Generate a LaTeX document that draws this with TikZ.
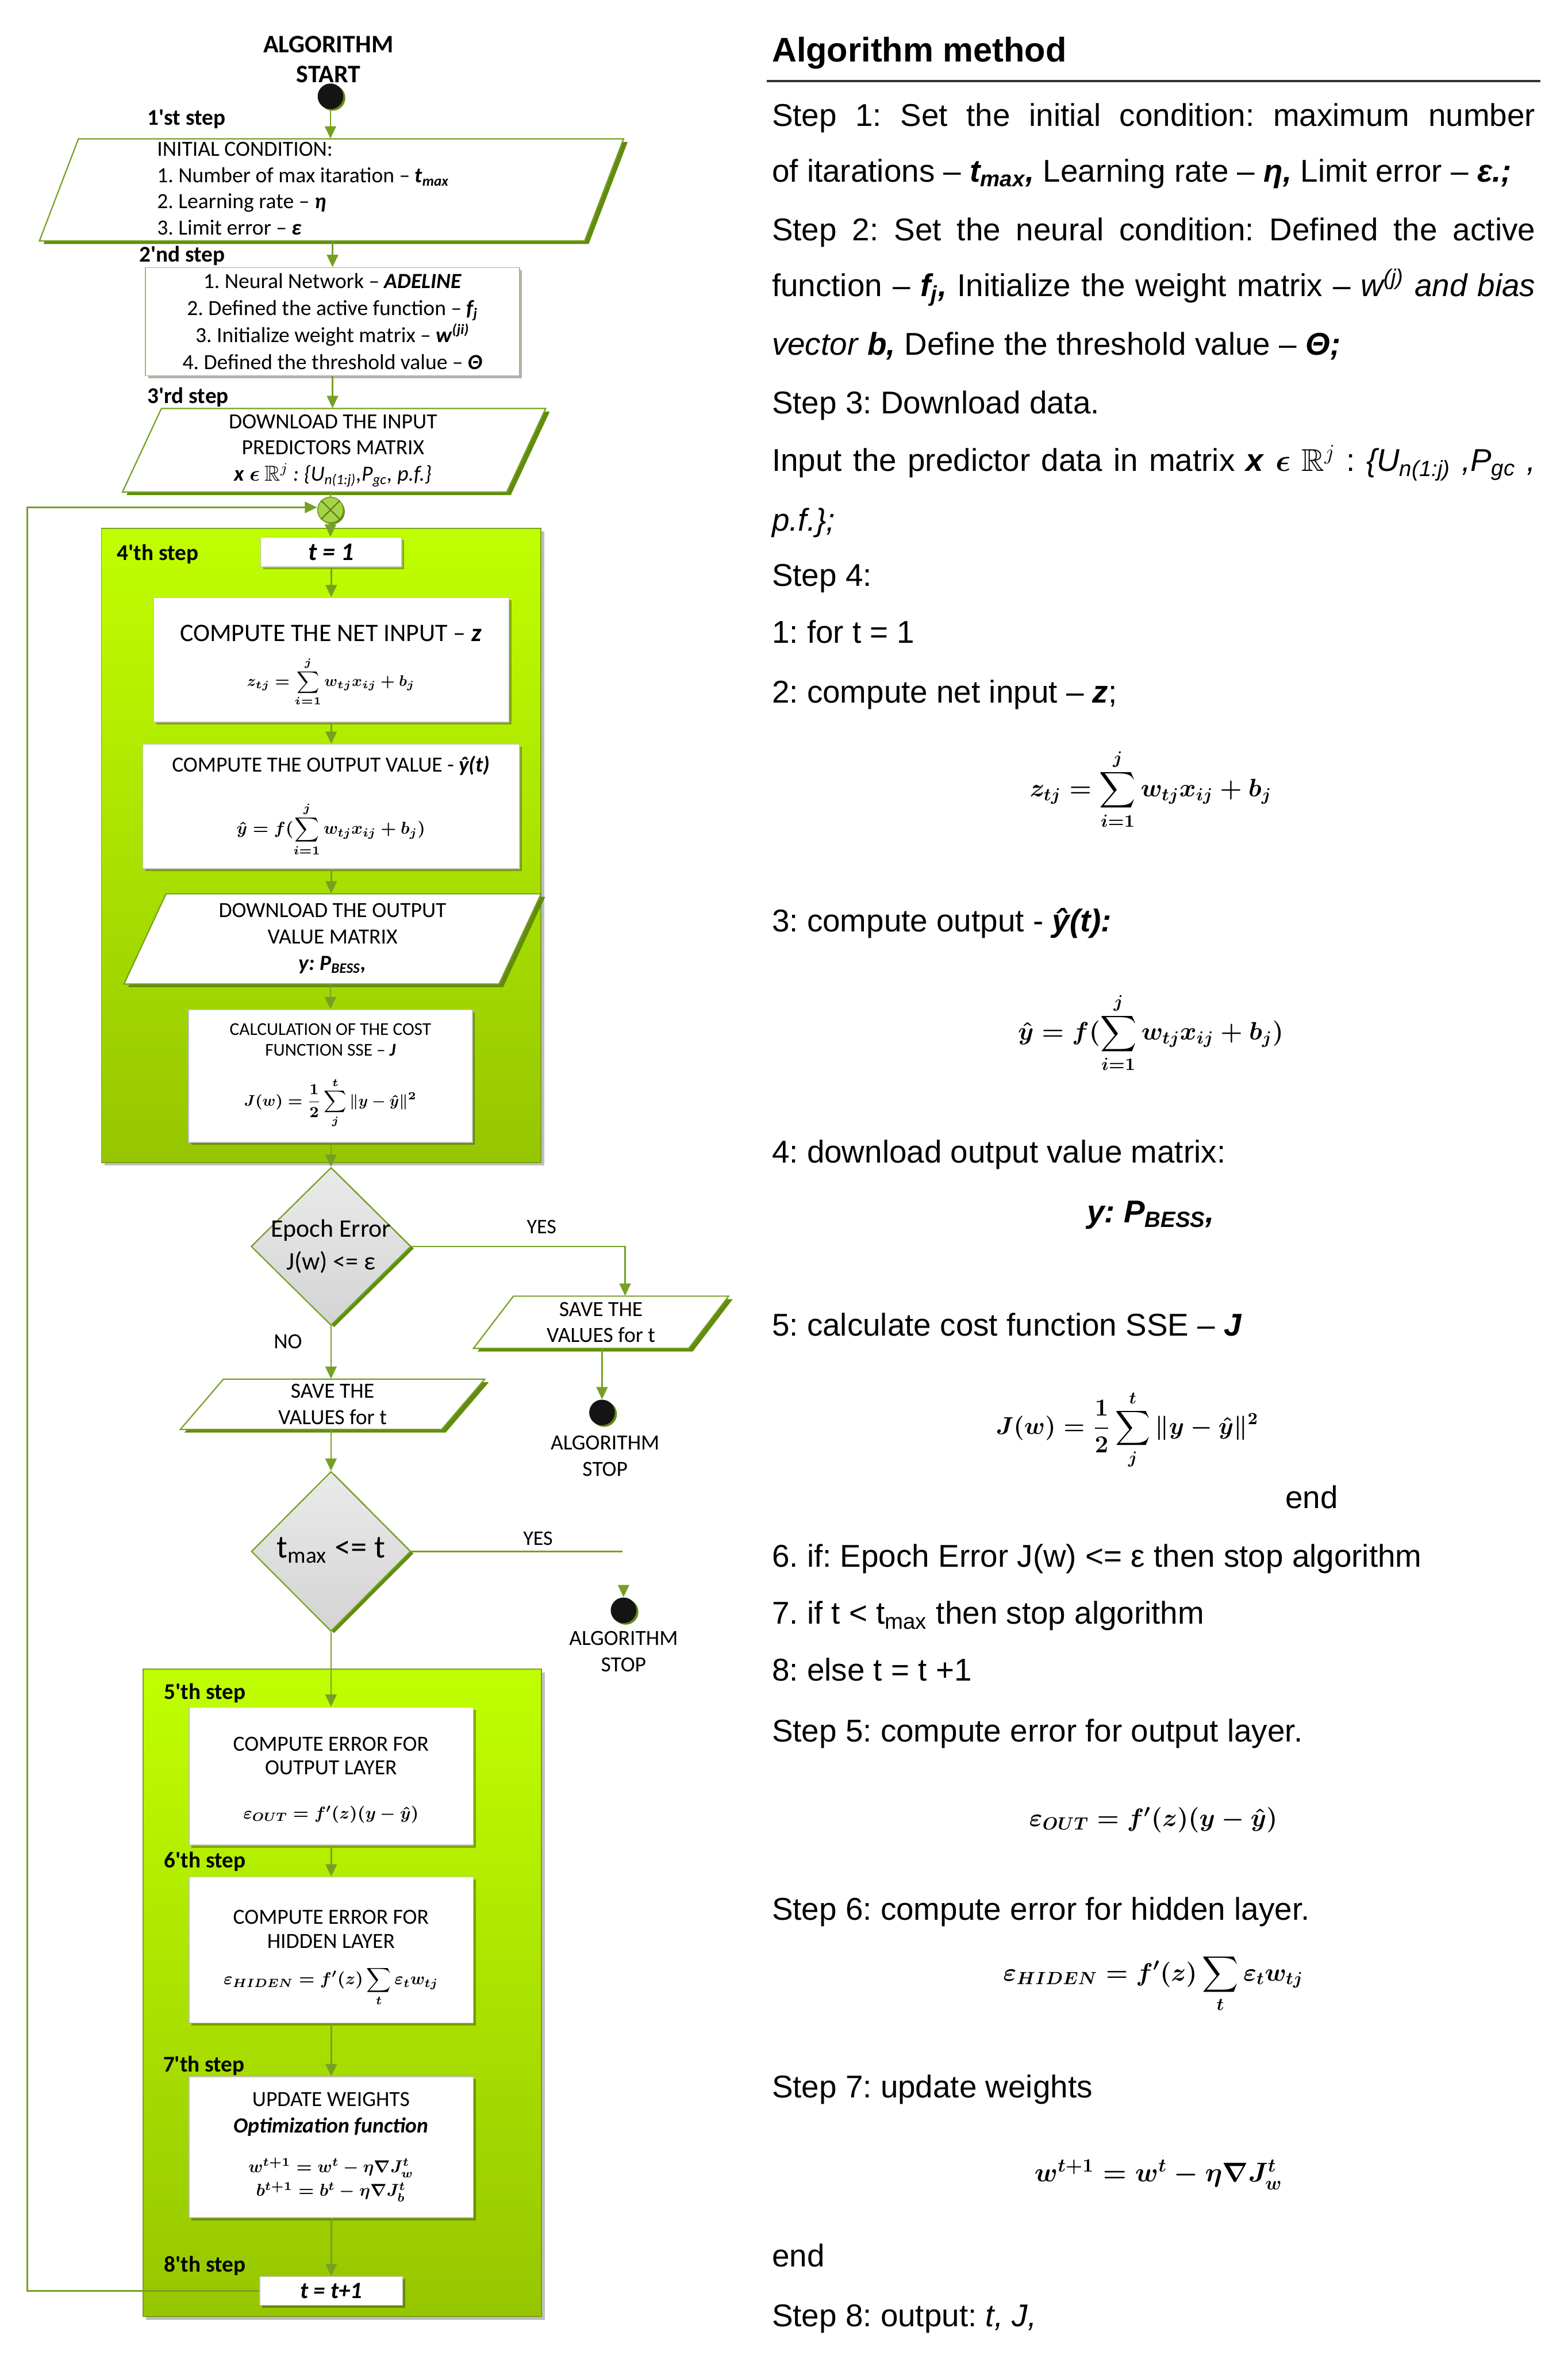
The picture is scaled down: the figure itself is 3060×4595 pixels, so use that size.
\RequirePackage{fix-cm}
\documentclass[tikz,border=0pt]{standalone}
\usepackage{amsmath,amssymb}
\usepackage{bm}
\usepackage{fontspec}
\newfontfamily\arialf{Liberation Sans}
\newfontfamily\calf{Carlito}
\usetikzlibrary{shapes.geometric,arrows.meta,shadows}
\frenchspacing
\definecolor{lineg}{RGB}{118,160,36}
\definecolor{shadg}{RGB}{98,140,14}
\definecolor{limetop}{RGB}{192,255,0}
\definecolor{limebot}{RGB}{150,198,0}
\definecolor{jfill}{RGB}{165,212,70}
\newcommand\mypgram[6]{%
  \fill[shadg] (#2-#4+#6+8,#3-#5+6) -- (#2+#4+#6+8,#3-#5+6) -- (#2+#4-#6+8,#3+#5+6) -- (#2-#4-#6+8,#3+#5+6) -- cycle;
  \draw[lineg, line width=0.25mm, fill=white] (#2-#4+#6,#3-#5) -- (#2+#4+#6,#3-#5) -- (#2+#4-#6,#3+#5) -- (#2-#4-#6,#3+#5) -- cycle;
  \node[anch, minimum width={2*#4*0.1mm}, minimum height={2*#5*0.1mm}] (#1) at (#2,#3) {};
}
\tikzset{
  conn/.style={draw=lineg, line width=0.3mm},
  arr/.style={conn, -{Triangle[length=2.4mm,width=2.2mm]}},
  steplbl/.style={anchor=west, inner sep=0, font=\calf\bfseries\fontsize{12.5}{15}\selectfont},
  ltxt/.style={inner sep=0, align=center, font=\calf\fontsize{12}{14.6}\selectfont},
  lfm/.style={inner sep=0, font=\boldmath\fontsize{9.5}{12}\selectfont},
  wbox/.style={rectangle, draw=black!25, line width=0.15mm, fill=white, inner sep=0, drop shadow={shadow xshift=0.5mm, shadow yshift=-0.5mm, fill=black, opacity=0.3}},
  grp/.style={rectangle, inner sep=0, top color=limetop, bottom color=limebot, draw=lineg, line width=0.2mm, drop shadow={shadow xshift=0.6mm, shadow yshift=-0.6mm, fill=black, opacity=0.25}},
  dia/.style={diamond, draw=lineg, line width=0.25mm, top color=black!8, bottom color=black!17, inner sep=0, drop shadow={shadow xshift=0.6mm, shadow yshift=-0.4mm, fill=shadg, opacity=1}},
  dot/.style={circle, fill=black!92, minimum size=5mm, inner sep=0, drop shadow={shadow xshift=0.4mm, shadow yshift=-0.3mm, fill=shadg, opacity=1}},
  anch/.style={rectangle, inner sep=0, draw=none},
  rt/.style={anchor=base west, inner sep=0, font=\arialf\fontsize{17.5}{21}\selectfont},
  rfm/.style={inner sep=0, font=\boldmath\fontsize{14}{17}\selectfont},
}
\begin{document}
\begin{tikzpicture}[x=0.1mm,y=-0.1mm]
\useasboundingbox (0,0) rectangle (3060,4595);
\fill[white] (0,0) rectangle (3060,4595);

% ---------- left flowchart ----------
\node[inner sep=0, align=center, font=\calf\bfseries\fontsize{14}{16.8}\selectfont] (alg) at (641,116) {ALGORITHM\\START};
\node[dot] (start) at (645,188) {};
\node[steplbl] (s1) at (287,233) {1'st step};

\mypgram{p1}{647}{370.5}{532}{99.5}{38}
\node[inner sep=0, anchor=west, align=left, font=\calf\fontsize{12}{14.5}\selectfont] (p1t) at (306,368) {INITIAL CONDITION:\\
1. Number of max itaration – \textbf{\textit{t\textsubscript{max}}}\\
2. Learning rate – \textbf{\textit{η}}\\
3. Limit error – \textbf{\textit{ε}}};

\node[steplbl] (s2) at (271,499) {2'nd step};
\node[wbox, draw=lineg!70, minimum width=73mm, minimum height=21.1mm] (b2) at (649,627.5) {};
\node[ltxt, font=\calf\fontsize{12}{15}\selectfont] (b2t) at (649,627) {1. Neural Network – \textbf{\textit{ADELINE}}\\
2. Defined the active function – \textbf{\textit{f\textsubscript{j}}}\\
3. Initialize weight matrix – \textbf{\textit{w\textsuperscript{(ji)}}}\\
4. Defined the threshold value – \textbf{\textit{Θ}}};

\node[steplbl] (s3) at (287,775) {3'rd step};
\mypgram{p3}{652}{878.5}{375}{81.5}{38}
\node[ltxt] (p3t) at (650,879) {DOWNLOAD THE INPUT\\PREDICTORS MATRIX\\
\textbf{\textit{x}} $\bm{\epsilon}$ $\mathbb{R}^{j}$ \textit{: \{U\textsubscript{n(1:j)},P\textsubscript{gc}, p.f.\}}};

\node[circle, minimum size=5mm, fill=jfill, draw=lineg, line width=0.2mm, inner sep=0,
  drop shadow={shadow xshift=0.3mm, shadow yshift=-0.3mm, fill=shadg, opacity=1}] (jn) at (645,995) {};
\draw[lineg!70!black, line width=0.2mm] (jn.north east) -- (jn.south west) (jn.north west) -- (jn.south east);

% group 4
\node[grp, minimum width=85.8mm, minimum height=123.7mm] (g4) at (627,1649.5) {};
\node[steplbl] (s4) at (228,1081) {4'th step};
\node[wbox, minimum width=27.5mm, minimum height=5.8mm, font=\calf\bfseries\itshape\fontsize{14}{16}\selectfont] (t1) at (646.5,1077) {t = 1};

\node[wbox, minimum width=69.3mm, minimum height=24.3mm] (bA) at (646.5,1287.5) {};
\node[ltxt, font=\calf\fontsize{14}{16}\selectfont] (bAt) at (646,1236) {COMPUTE THE NET INPUT – \textbf{\textit{z}}};
\node[lfm, font=\boldmath\fontsize{8.5}{10}\selectfont] (bAf) at (646,1330) {$\displaystyle z_{tj} = \sum_{i=1}^{j} w_{tj}x_{ij} + b_j$};

\node[wbox, minimum width=73.5mm, minimum height=24.3mm] (bB) at (646.5,1573.5) {};
\node[ltxt] (bBt) at (646,1494) {COMPUTE THE OUTPUT VALUE - \textbf{\textit{ŷ(t)}}};
\node[lfm] (bBf) at (646,1618) {$\displaystyle \hat{y} = f(\sum_{i=1}^{j} w_{tj}x_{ij} + b_j)$};

\mypgram{pc}{649}{1832}{366}{88}{41}
\node[ltxt] (pct) at (649,1831) {DOWNLOAD THE OUTPUT\\VALUE MATRIX\\\textbf{\textit{y: P\textsubscript{BESS},}}};

\node[wbox, minimum width=55.4mm, minimum height=25.9mm] (bD) at (645,2099.5) {};
\node[ltxt, font=\calf\fontsize{10}{11.4}\selectfont] (bDt) at (645,2029) {CALCULATION OF THE COST\\FUNCTION SSE – \textbf{\textit{J}}};
\node[lfm, font=\boldmath\fontsize{8.5}{10}\selectfont] (bDf) at (645,2152) {$\displaystyle J(w) = \frac{1}{2}\sum_{j}^{t}\|y - \hat{y}\|^2$};

% decisions
\node[dia, minimum width=31.2mm, minimum height=30.8mm] (d1) at (646,2432) {};
\node[ltxt, font=\calf\fontsize{14}{18}\selectfont] (d1t) at (646,2432) {Epoch Error\\J(w) <= ε};
\node[inner sep=0, font=\calf\fontsize{11.5}{13}\selectfont] (yes1) at (1057,2394) {YES};
\mypgram{pe}{1173}{2580}{210}{51}{39}
\node[ltxt] (pet) at (1173,2580) {SAVE THE\\VALUES for t};
\node[dot] (stop1) at (1175,2756) {};
\node[ltxt] (stop1t) at (1181,2841) {ALGORITHM\\STOP};
\node[inner sep=0, font=\calf\fontsize{12}{14}\selectfont] (no1) at (562,2618) {NO};
\mypgram{pf}{649}{2740}{255}{49}{42}
\node[ltxt] (pft) at (649,2740) {SAVE THE\\VALUES for t};

\node[dia, minimum width=31.1mm, minimum height=31.2mm] (d2) at (646,3027) {};
\node[ltxt, font=\calf\fontsize{18}{20}\selectfont] (d2t) at (646,3025) {t\textsubscript{max} <= t};
\node[inner sep=0, font=\calf\fontsize{11.5}{13}\selectfont] (yes2) at (1050,3002) {YES};
\coordinate (d2e) at (1215,3027);
\node[dot] (stop2) at (1217,3142) {};
\coordinate (s2in) at (1217,3098);
\node[ltxt] (stop2t) at (1217,3222) {ALGORITHM\\STOP};

% group 5
\node[grp, minimum width=77.8mm, minimum height=126.3mm] (g5) at (668,3888.5) {};
\node[steplbl] (s5) at (320,3303) {5'th step};
\node[wbox, minimum width=55.5mm, minimum height=26.9mm] (bG) at (646.5,3465.5) {};
\node[ltxt, font=\calf\fontsize{12}{13.1}\selectfont] (bGt) at (646,3426) {COMPUTE ERROR FOR\\OUTPUT LAYER};
\node[lfm] (bGf) at (646,3540) {$\varepsilon_{OUT} = f'(z)(y - \hat{y})$};

\node[steplbl] (s6) at (320,3632) {6'th step};
\node[wbox, minimum width=55.5mm, minimum height=28.5mm] (bH) at (646.5,3804.5) {};
\node[ltxt, font=\calf\fontsize{12}{13.1}\selectfont] (bHt) at (646,3764) {COMPUTE ERROR FOR\\HIDDEN LAYER};
\node[lfm] (bHf) at (646,3876) {$\displaystyle \varepsilon_{HIDEN} = f'(z)\sum_{t}\varepsilon_t w_{tj}$};

\node[steplbl] (s7) at (318,4031) {7'th step};
\node[wbox, minimum width=55.5mm, minimum height=27.5mm] (bI) at (646.5,4189.5) {};
\node[ltxt, font=\calf\fontsize{12}{14.8}\selectfont] (bIt) at (646,4125) {UPDATE WEIGHTS\\\textbf{\textit{Optimization function}}};
\node[lfm, align=center, font=\boldmath\fontsize{9.5}{13.2}\selectfont] (bIf) at (646,4253) {$w^{t+1} = w^t - \eta\nabla J_w^t$\\$b^{t+1} = b^t - \eta\nabla J_b^t$};

\node[steplbl] (s8) at (320,4421) {8'th step};
\node[wbox, minimum width=27.9mm, minimum height=5.6mm, font=\calf\bfseries\itshape\fontsize{13}{15}\selectfont] (tt) at (646.5,4470) {t = t+1};

\coordinate (lpA) at (53,4470);
\coordinate (lpB) at (53,990);

% connectors
\draw[arr] (start) -- (start |- p1.north);
\draw[arr] (b2.north |- p1.south) -- (b2.north);
\draw[arr] (b2.south) -- (b2.south |- p3.north);
\draw[conn] (jn.north |- p3.south) -- (jn.north);
\draw[arr] (tt.west) -- (lpA) -- (lpB) -- (lpB -| jn.west);
\draw[arr] (jn) -- (jn |- t1.north);
\draw[arr] (t1.south) -- (t1.south |- bA.north);
\draw[arr] (bA.south) -- (bA.south |- bB.north);
\draw[arr] (bB.south) -- (bB.south |- pc.north);
\draw[arr] (bD.north |- pc.south) -- (bD.north);
\draw[arr] (d1.north |- bD.south) -- (d1.north);
\draw[arr] (d1.east) -| ([xshift=4.7mm]pe.north);
\draw[arr] (stop1 |- pe.south) -- (stop1);
\draw[arr] (d1.south) -- (d1.south |- pf.north);
\draw[arr] (d2.north |- pf.south) -- (d2.north);
\draw[conn] (d2.east) -- (d2e);
\draw[arr] (s2in) -- (stop2);
\draw[arr] (d2.south) -- (d2.south |- bG.north);
\draw[arr] (bG.south) -- (bG.south |- bH.north);
\draw[arr] (bH.south) -- (bH.south |- bI.north);
\draw[arr] (bI.south) -- (bI.south |- tt.north);

% ---------- right column ----------
\node[rt, font=\arialf\bfseries\fontsize{19}{22}\selectfont] (rtitle) at (1506,121) {Algorithm method};
\draw[black!80, line width=0.4mm] (1496,158) -- (3006,158);
\node[rt] (r1) at (1506,246) {\makebox[149mm][s]{Step 1: Set the initial condition: maximum number}};
\node[rt] (r2) at (1506,355) {of itarations – \textbf{\textit{t\textsubscript{max},}} Learning rate – \textbf{\textit{η,}} Limit error – \textbf{\textit{ε.;}}};
\node[rt] (r3) at (1506,469) {\makebox[149mm][s]{Step 2: Set the neural condition: Defined the active}};
\node[rt] (r4) at (1506,578) {\makebox[149mm][s]{function – \textbf{\textit{f\textsubscript{j},}} Initialize the weight matrix – \textit{w\textsuperscript{(j)} and bias}}};
\node[rt] (r5) at (1506,693) {\textit{vector} \textbf{\textit{b,}} Define the threshold value – \textbf{\textit{Θ;}}};
\node[rt] (r6) at (1506,807) {Step 3: Download data.};
\node[rt] (r7) at (1506,919) {\makebox[149mm][s]{Input the predictor data in matrix \textbf{\textit{x}} $\bm{\epsilon}$ $\mathbb{R}^{j}$ : \textit{\{U\textsubscript{n(1:j)} ,P\textsubscript{gc} ,}}};
\node[rt] (r8) at (1506,1036) {\textit{p.f.\};}};
\node[rt] (r9) at (1506,1144) {Step 4:};
\node[rt] (r10) at (1506,1255) {1: for t = 1};
\node[rt] (r11) at (1506,1371) {2: compute net input – \textbf{\textit{z}};};
\node[rfm] (f1) at (2246,1540) {$\displaystyle z_{tj} = \sum_{i=1}^{j} w_{tj}x_{ij} + b_j$};
\node[rt] (r12) at (1506,1818) {3: compute output - \textbf{\textit{ŷ(t):}}};
\node[rfm] (f2) at (2246,2015) {$\displaystyle \hat{y} = f(\sum_{i=1}^{j} w_{tj}x_{ij} + b_j)$};
\node[rt] (r13) at (1506,2269) {4: download output value matrix:};
\node[rt, anchor=base] (r14) at (2246,2385) {\textbf{\textit{y: P\textsubscript{BESS},}}};
\node[rt] (r15) at (1506,2607) {5: calculate cost function SSE – \textbf{\textit{J}}};
\node[rfm, font=\boldmath\fontsize{13.5}{16}\selectfont] (f3) at (2200,2790) {$\displaystyle J(w) = \frac{1}{2}\sum_{j}^{t}\|y - \hat{y}\|^2$};
\node[rt] (r16) at (2508,2943) {end};
\node[rt] (r17) at (1506,3058) {6. if: Epoch Error J(w) <= ε then stop algorithm};
\node[rt] (r18) at (1506,3169) {7. if t < t\textsubscript{max} then stop algorithm};
\node[rt] (r19) at (1506,3280) {8: else t = t +1};
\node[rt] (r20) at (1506,3398) {Step 5: compute error for output layer.};
\node[rfm] (f4) at (2251,3551) {$\varepsilon_{OUT} = f'(z)(y - \hat{y})$};
\node[rt] (r21) at (1506,3746) {Step 6: compute error for hidden layer.};
\node[rfm] (f5) at (2251,3870) {$\displaystyle \varepsilon_{HIDEN} = f'(z)\sum_{t}\varepsilon_t w_{tj}$};
\node[rt] (r22) at (1506,4093) {Step 7: update weights};
\node[rfm, font=\boldmath\fontsize{15}{18}\selectfont] (f6) at (2261,4243) {$w^{t+1} = w^t - \eta\nabla J_w^t$};
\node[rt] (r23) at (1506,4423) {end};
\node[rt] (r24) at (1506,4539) {Step 8: output: \textit{t, J,}};
\end{tikzpicture}
\end{document}
